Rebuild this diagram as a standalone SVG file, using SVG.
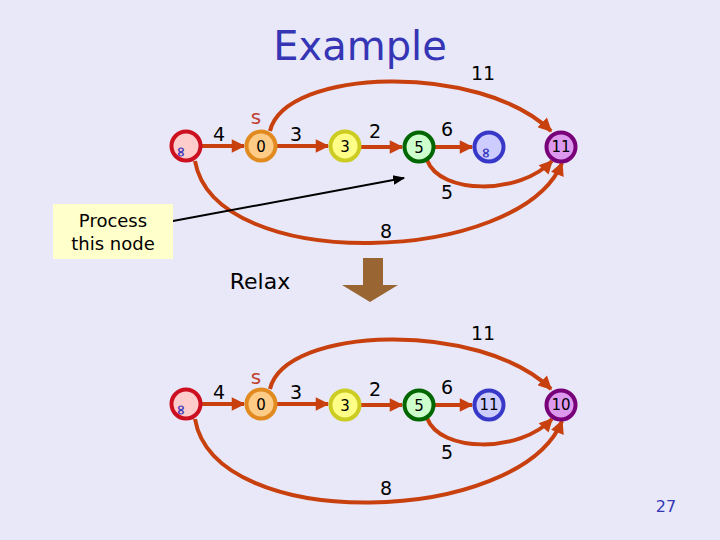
<svg xmlns="http://www.w3.org/2000/svg" width="720" height="540" viewBox="0 0 720 540">
<defs>
<marker id="ah" viewBox="0 0 10 10" refX="9" refY="5" markerWidth="3.6" markerHeight="3.4" orient="auto" markerUnits="strokeWidth"><path d="M0,0 L10,5 L0,10 z" fill="#c8400e"/></marker>
<marker id="bh" viewBox="0 0 10 10" refX="9" refY="5" markerWidth="6" markerHeight="6" orient="auto" markerUnits="strokeWidth"><path d="M0,1 L10,5 L0,9 z" fill="#000"/></marker>
<style>
text{font-family:"DejaVu Sans","Noto Sans",sans-serif;}
.e{fill:none;stroke:#c8400e;stroke-width:4;marker-end:url(#ah);}
.lb{font-size:19px;fill:#000;text-anchor:middle;}
.nv{font-size:15px;fill:#000;text-anchor:middle;}
.s{font-size:20px;fill:#c04030;text-anchor:middle;}
.inf{font-size:14px;fill:#3333bb;font-weight:bold;}
.n{stroke-width:4;}
</style>
</defs>
<rect width="720" height="540" fill="#e8e8f8"/>
<text x="360" y="60" font-size="40" fill="#3535b5" text-anchor="middle">Example</text>

<g id="connectors">
<line class="e" x1="202" y1="146" x2="244" y2="146"/>
<line class="e" x1="277" y1="146" x2="328" y2="146"/>
<line class="e" x1="361" y1="147" x2="402" y2="147"/>
<line class="e" x1="435" y1="147" x2="472" y2="147"/>
<path class="e" d="M270,131 C285,68 480,62 551,131"/>
<path class="e" d="M427,160 C440,195 520,195 552,161"/>
<path class="e" d="M195,161 C215,275 520,265 562,163"/>

<line class="e" x1="202" y1="404" x2="244" y2="404"/>
<line class="e" x1="277" y1="404" x2="328" y2="404"/>
<line class="e" x1="361" y1="405" x2="402" y2="405"/>
<line class="e" x1="435" y1="405" x2="472" y2="405"/>
<path class="e" d="M270,389 C285,326 480,320 551,389"/>
<path class="e" d="M427,418 C440,453 520,453 552,419"/>
<path class="e" d="M195,419 C215,535 520,525 562,421"/>

<line x1="173" y1="221" x2="404" y2="178" stroke="#000" stroke-width="2" marker-end="url(#bh)"/>
</g>

<g id="edge-labels">
<text class="lb" x="219" y="141">4</text>
<text class="lb" x="296" y="141">3</text>
<text class="lb" x="375" y="138">2</text>
<text class="lb" x="447" y="136">6</text>
<text class="lb" x="483" y="80">11</text>
<text class="lb" x="447" y="199">5</text>
<text class="lb" x="386" y="238">8</text>
<text class="s" x="256" y="124">s</text>

<text class="lb" x="219" y="399">4</text>
<text class="lb" x="296" y="399">3</text>
<text class="lb" x="375" y="396">2</text>
<text class="lb" x="447" y="394">6</text>
<text class="lb" x="483" y="340">11</text>
<text class="lb" x="447" y="459">5</text>
<text class="lb" x="386" y="495">8</text>
<text class="s" x="256" y="384">s</text>
</g>

<g id="top-inf-left"><circle class="n" cx="186" cy="146" r="14.5" fill="#ffcccc" stroke="#cc1020"/><text class="inf" transform="translate(185,152) rotate(-90)" text-anchor="middle">∞</text></g>
<g id="top-s"><circle class="n" cx="261" cy="146" r="14.5" fill="#ffcc88" stroke="#e08a20"/><text class="nv" x="261" y="152">0</text></g>
<g id="top-3"><circle class="n" cx="345" cy="146" r="14.5" fill="#ffff88" stroke="#cccc22"/><text class="nv" x="345" y="152">3</text></g>
<g id="top-5"><circle class="n" cx="419" cy="147" r="14.5" fill="#ccffcc" stroke="#006600"/><text class="nv" x="419" y="153">5</text></g>
<g id="top-inf-blue"><circle class="n" cx="489" cy="147" r="14.5" fill="#ccccff" stroke="#3838c8"/><text class="inf" transform="translate(490,153) rotate(-90)" text-anchor="middle">∞</text></g>
<g id="top-11"><circle class="n" cx="561" cy="147" r="14.5" fill="#dd99ee" stroke="#780078"/><text class="nv" x="561" y="152" font-size="14">11</text></g>

<g id="bot-inf-left"><circle class="n" cx="186" cy="404" r="14.5" fill="#ffcccc" stroke="#cc1020"/><text class="inf" transform="translate(185,410) rotate(-90)" text-anchor="middle">∞</text></g>
<g id="bot-s"><circle class="n" cx="261" cy="404" r="14.5" fill="#ffcc88" stroke="#e08a20"/><text class="nv" x="261" y="410">0</text></g>
<g id="bot-3"><circle class="n" cx="345" cy="405" r="14.5" fill="#ffff88" stroke="#cccc22"/><text class="nv" x="345" y="411">3</text></g>
<g id="bot-5"><circle class="n" cx="419" cy="405" r="14.5" fill="#ccffcc" stroke="#006600"/><text class="nv" x="419" y="411">5</text></g>
<g id="bot-11"><circle class="n" cx="489" cy="405" r="14.5" fill="#ccccff" stroke="#3838c8"/><text class="nv" x="489" y="410" font-size="14">11</text></g>
<g id="bot-10"><circle class="n" cx="561" cy="405" r="14.5" fill="#dd99ee" stroke="#780078"/><text class="nv" x="561" y="410" font-size="14">10</text></g>

<g id="process-box">
<rect x="53" y="204" width="120" height="55" fill="#ffffcc"/>
<text x="113" y="227" font-size="18" text-anchor="middle">Process</text>
<text x="113" y="250" font-size="18" text-anchor="middle">this node</text>
</g>

<text x="260" y="289" font-size="22" text-anchor="middle">Relax</text>
<g id="relax-arrow">
<path d="M363,258 H383 V285 H398 L370,302 L342,285 H363 Z" fill="#996633"/>
</g>

<text x="666" y="512" font-size="16" fill="#3535b5" text-anchor="middle">27</text>
</svg>
